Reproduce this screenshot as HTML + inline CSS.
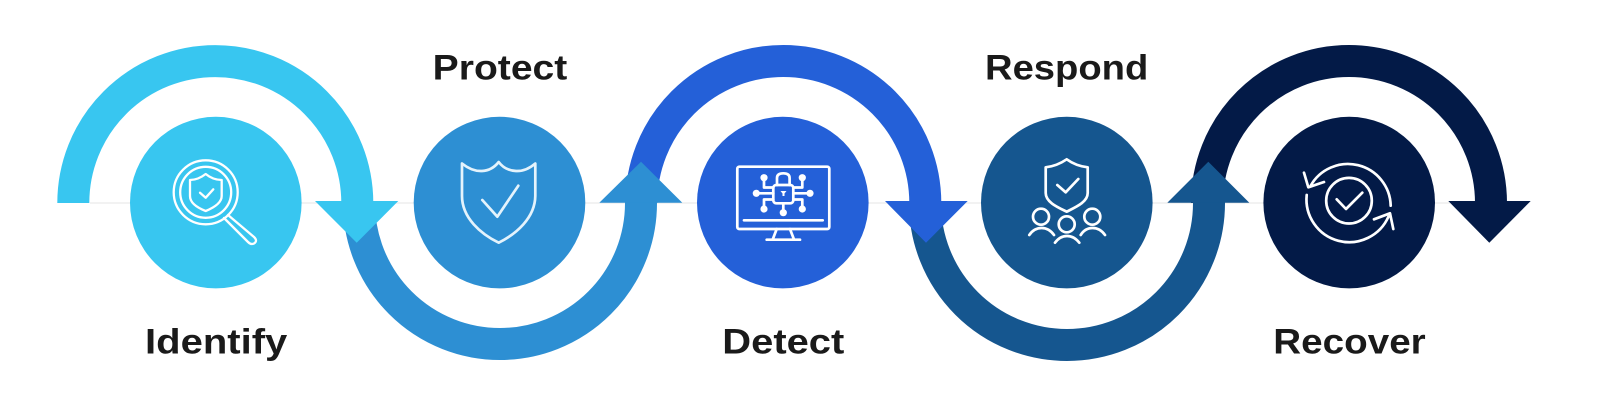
<!DOCTYPE html>
<html>
<head>
<meta charset="utf-8">
<style>
html,body{margin:0;padding:0;background:#fff;width:1600px;height:419px;overflow:hidden}
svg{display:block}
text{font-family:"Liberation Sans",sans-serif;font-weight:700;font-size:35px;fill:#1a1a1a}
.i{fill:none;stroke:#fff;stroke-width:2.7;stroke-linecap:round;stroke-linejoin:round}
.t{stroke-width:2.3}
</style>
</head>
<body>
<svg width="1600" height="419" viewBox="0 0 1600 419" xmlns="http://www.w3.org/2000/svg">
<rect width="1600" height="419" fill="#fff"/>
<line x1="90" y1="203" x2="1450" y2="203" stroke="#e6e6e6" stroke-width="1"/>

<!-- arcs, back to front -->
<path d="M1207 203A142 142 0 0 1 1491 203" fill="none" stroke="#031a47" stroke-width="32"/>
<polygon points="1448.3,201 1530.7,201 1489.3,242.7" fill="#031a47"/>

<path d="M925 203A142 142 0 0 0 1209 203V190" fill="none" stroke="#15568f" stroke-width="32"/>
<polygon points="1167.3,202.7 1249.3,202.7 1208.3,161.7" fill="#15568f"/>

<path d="M641.3 203A142 142 0 0 1 925.3 203" fill="none" stroke="#2460d8" stroke-width="32"/>
<polygon points="885,201 967.7,201 926,242.7" fill="#2460d8"/>

<path d="M359 203A141 141 0 0 0 641 203V190" fill="none" stroke="#2d8fd3" stroke-width="32"/>
<polygon points="599.3,202.7 682.3,202.7 641,161.7" fill="#2d8fd3"/>

<path d="M73.3 203A142 142 0 0 1 357.3 203" fill="none" stroke="#38c6f0" stroke-width="32"/>
<polygon points="315,201 398.3,201 356.7,242.7" fill="#38c6f0"/>

<!-- circles -->
<circle cx="215.8" cy="202.6" r="85.8" fill="#38c6f0"/>
<circle cx="499.5" cy="202.6" r="85.8" fill="#2d8fd3"/>
<circle cx="782.8" cy="202.6" r="85.8" fill="#2460d8"/>
<circle cx="1066.8" cy="202.6" r="85.8" fill="#15568f"/>
<circle cx="1349.2" cy="202.6" r="85.8" fill="#031a47"/>

<!-- Identify icon -->
<g class="i t">
<circle cx="205.7" cy="192.3" r="32"/>
<circle cx="205.7" cy="192.3" r="25.5"/>
<path d="M205.7 174Q213 180 221.7 180V196C221.7 203 213 208 205.7 211C198 208 190 203 190 196V180Q198 180 205.7 174Z"/>
<path d="M200 192.7L205.7 197.7L213.3 189.3"/>
<path d="M228 215L254 237Q258 241 254 243.5Q251 245 248 242L224 218"/>
</g>

<!-- Protect icon -->
<g class="i" style="stroke:#e4f3fc">
<path d="M462 163.5Q472 171.5 482 171Q492 170.5 498.7 162Q505 170.5 516 171Q526 171.5 535.3 163.5V196C535 218 516 234 498.7 242.7C481 234 462 218 462 196Z"/>
<path d="M482.3 200L497.3 216.7L518.3 185.7"/>
</g>

<!-- Detect icon -->
<g class="i">
<rect x="737.3" y="166.7" width="92" height="62.3" rx="2"/>
<line x1="744" y1="220.3" x2="822.7" y2="220.3"/>
<path d="M776.7 229L772.7 239.5M790 229L794 239.5M766.7 239.7H800"/>
<rect x="773.3" y="185" width="20" height="18.3" rx="3"/>
<path d="M777 185V178Q777 173.3 783.3 173.3Q789.6 173.3 789.6 178V185"/>
<path d="M764 177.7V187.5H773.3M802.3 177.7V187.5H793.3M756.3 193.3H773.3M810 193.3H793.3M764 209V199.5H773.3M802.3 209V199.5H793.3M783.3 203.3V212.7"/>
<g fill="#fff" stroke="none">
<circle cx="764" cy="177.7" r="3.6"/><circle cx="802.3" cy="177.7" r="3.6"/>
<circle cx="756.3" cy="193.3" r="3.6"/><circle cx="810" cy="193.3" r="3.6"/>
<circle cx="764" cy="209" r="3.6"/><circle cx="802.3" cy="209" r="3.6"/>
<circle cx="783.3" cy="212.7" r="3.6"/>
<path d="M780.5 191H786.5L784.5 193.5V196H782.5V193.5Z"/>
</g>
</g>

<!-- Respond icon -->
<g class="i">
<path d="M1066.7 159.3Q1076 166 1087.7 167.3V193C1087.7 202 1076 207 1066.7 211.7C1057 207 1045.7 202 1045.7 193V167.3Q1057 166 1066.7 159.3Z"/>
<path d="M1057.3 185L1065.7 192.3L1078.3 179"/>
<circle cx="1041" cy="216.7" r="8"/>
<circle cx="1066.7" cy="224.3" r="8"/>
<circle cx="1092.3" cy="216.7" r="8"/>
<path d="M1029.3 235Q1034 228 1041.7 228Q1049 228 1054 235"/>
<path d="M1055 242.7Q1060 236 1067 236Q1074 236 1079.3 242.7"/>
<path d="M1080.7 235Q1085 228 1092.7 228Q1100 228 1105 235"/>
</g>

<!-- Recover icon -->
<g class="i">
<circle cx="1349" cy="200.7" r="22.8"/>
<path d="M1336.7 199.3L1346 209L1362.3 192.7"/>
<path d="M1310.5 186A42.8 42.8 0 0 1 1390.7 205.7"/>
<path d="M1306.7 195A42.8 42.8 0 0 0 1388.5 216.5"/>
<path d="M1304 172.7L1308.3 187.3L1324 182"/>
<path d="M1374 219.3L1390 213.3L1393.3 229"/>
</g>

<!-- labels -->
<text x="145" y="353.3" textLength="142.3" lengthAdjust="spacingAndGlyphs">Identify</text>
<text x="432.7" y="79.3" textLength="134.6" lengthAdjust="spacingAndGlyphs">Protect</text>
<text x="722.3" y="353.3" textLength="122" lengthAdjust="spacingAndGlyphs">Detect</text>
<text x="985" y="79.3" textLength="163.3" lengthAdjust="spacingAndGlyphs">Respond</text>
<text x="1273.3" y="353.3" textLength="152.4" lengthAdjust="spacingAndGlyphs">Recover</text>
</svg>
</body>
</html>
